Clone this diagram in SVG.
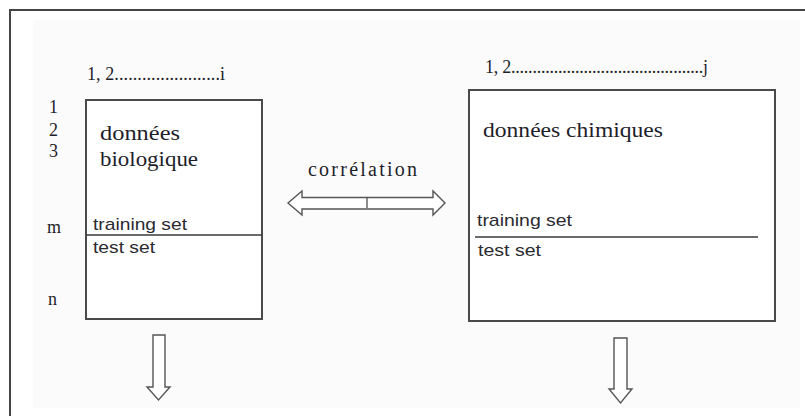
<svg xmlns="http://www.w3.org/2000/svg" width="805" height="416" viewBox="0 0 805 416">
  <style>
    .serif { font-family: "Liberation Serif", "Times New Roman", serif; font-size: 18px; fill: #1e1e2a; }
    .title { font-size: 20px; }
    .sans { font-family: "Liberation Sans", Arial, sans-serif; font-size: 17px; fill: #2a2a30; }
    .box { fill: #ffffff; stroke: #4a4a4a; stroke-width: 2; }
    .rule { stroke: #3a3a3a; stroke-width: 1.6; fill: none; }
    .arrow { fill: #ffffff; stroke: #555555; stroke-width: 1.4; stroke-linejoin: miter; }
  </style>

  <!-- page background and frame -->
  <rect x="0" y="0" width="805" height="416" fill="#ffffff"/>
  <rect x="33" y="20" width="767" height="388" fill="#fbfbfb"/>
  <path d="M10,416 V10 H805" fill="none" stroke="#444444" stroke-width="2"/>

  <!-- biological data matrix -->
  <g id="bio">
    <rect class="box" x="86" y="100" width="176" height="219"/>
    <line class="rule" x1="86" y1="235" x2="262" y2="235"/>
    <text class="serif" x="87" y="80" textLength="138" lengthAdjust="spacing">1, 2.......................i</text>
    <text class="serif" x="49" y="113">1</text>
    <text class="serif" x="49" y="136">2</text>
    <text class="serif" x="49" y="157">3</text>
    <text class="serif" x="47" y="233">m</text>
    <text class="serif" x="48" y="305">n</text>
    <text class="serif title" x="100" y="140" textLength="80" lengthAdjust="spacingAndGlyphs">données</text>
    <text class="serif title" x="100" y="166" textLength="98" lengthAdjust="spacingAndGlyphs">biologique</text>
    <text class="sans" x="93" y="230" textLength="94" lengthAdjust="spacingAndGlyphs">training set</text>
    <text class="sans" x="93" y="253" textLength="62" lengthAdjust="spacingAndGlyphs">test set</text>
  </g>

  <!-- chemical data matrix -->
  <g id="chem">
    <rect class="box" x="469" y="90" width="306" height="231"/>
    <line class="rule" x1="475" y1="237" x2="758" y2="237"/>
    <text class="serif" x="485" y="73" textLength="223" lengthAdjust="spacing">1, 2.............................................j</text>
    <text class="serif title" x="483" y="137" textLength="180" lengthAdjust="spacingAndGlyphs">données chimiques</text>
    <text class="sans" x="477" y="226" textLength="95" lengthAdjust="spacingAndGlyphs">training set</text>
    <text class="sans" x="478" y="256" textLength="63" lengthAdjust="spacingAndGlyphs">test set</text>
  </g>

  <!-- correlation label -->
  <g id="corr">
    <text class="serif title" x="308" y="176" textLength="109" lengthAdjust="spacing">corrélation</text>
  </g>

  <!-- connectors -->
  <g id="connectors">
    <path class="arrow" d="M288,203 L302,191 L302,197.5 L433,197.5 L433,191 L445,203 L433,215 L433,209 L302,209 L302,215 Z"/>
    <line x1="367" y1="197.5" x2="367" y2="208" stroke="#444444" stroke-width="1.2"/>
    <path class="arrow" d="M153,335 H165 V387 H170 L158.5,400 L147,387 H153 Z"/>
    <path class="arrow" d="M614,338 H627 V389 H632 L620.5,403 L609,389 H614 Z"/>
  </g>
</svg>
